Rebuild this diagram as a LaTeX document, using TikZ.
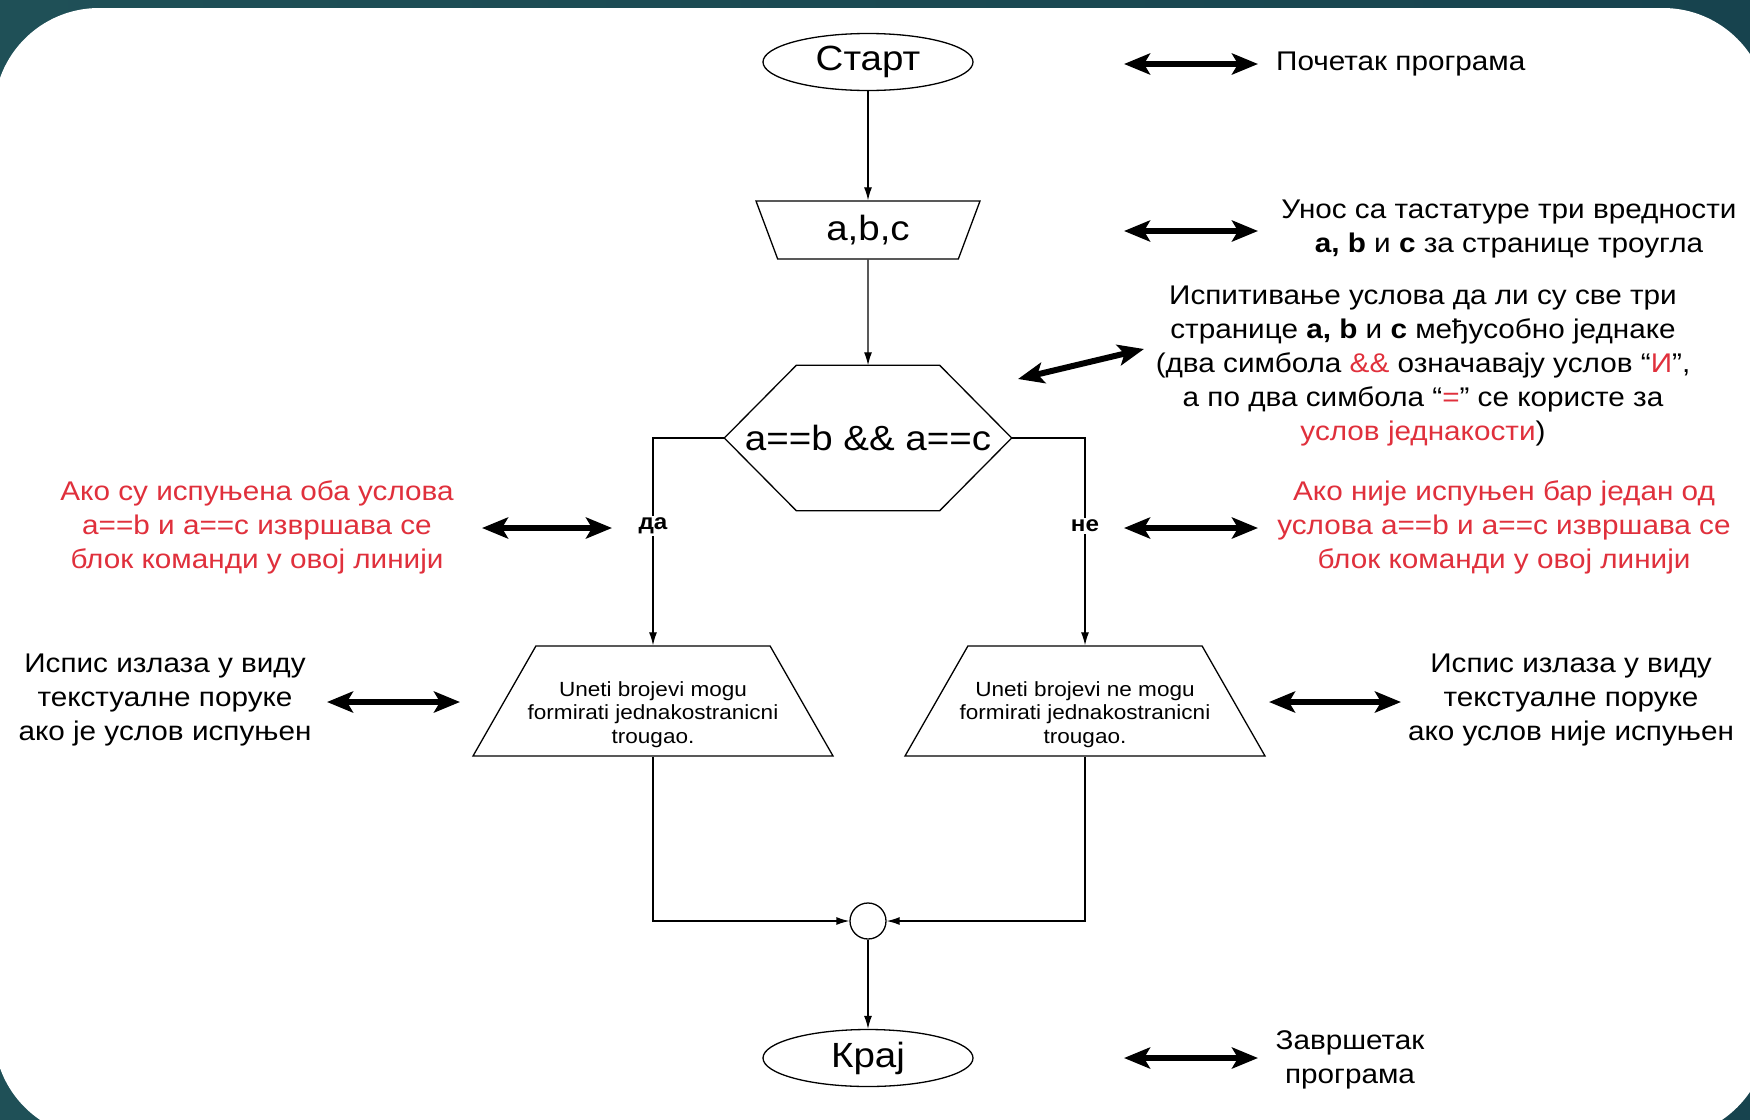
\documentclass[tikz,border=0pt]{standalone}
\usepackage{fontspec}
\setmainfont{Liberation Sans}[FakeStretch=1.1]
\usetikzlibrary{shapes.geometric,arrows.meta}

\definecolor{tealleft}{HTML}{1F5057}
\definecolor{tealmid}{HTML}{28605F}
\definecolor{tealright}{HTML}{17434E}
\definecolor{notered}{HTML}{E0303C}

\tikzset{
  flowline/.style={line width=1.3pt,-{Latex[length=13pt,width=8pt]}},
  term/.style={ellipse,draw,line width=1.3pt,minimum width=210pt,minimum height=57pt,
    inner sep=0pt,font=\fontsize{35}{40}\selectfont},
  inbox/.style={trapezium,draw,line width=1.3pt,shape border rotate=180,
    trapezium left angle=54,trapezium right angle=54,trapezium stretches body,
    minimum width=224pt,minimum height=58pt,inner sep=0pt,font=\fontsize{35}{40}\selectfont},
  outbox/.style={trapezium,draw,line width=1.3pt,trapezium left angle=56,trapezium right angle=56,
    trapezium stretches body,minimum width=360pt,minimum height=110pt,inner xsep=-25pt,
    inner ysep=0pt,align=center,font=\fontsize{20.5}{23.5}\selectfont},
  testbox/.style={rectangle,minimum width=287pt,minimum height=145pt,inner sep=0pt,
    font=\fontsize{35}{40}\selectfont},
  hexline/.style={line width=1.3pt,line join=miter},
  joint/.style={circle,draw,line width=1.3pt,minimum size=36pt,inner sep=0pt},
  branch/.style={fill=white,inner sep=2pt,font=\fontsize{22}{26}\selectfont\bfseries},
  note/.style={align=center,inner sep=0pt,font=\fontsize{27}{34}\selectfont},
  rednote/.style={note,text=notered},
  twohead/.style={line width=6pt,{Stealth[length=26pt,width=21pt,inset=6pt]}-{Stealth[length=26pt,width=21pt,inset=6pt]}}
}

\begin{document}
\begin{tikzpicture}[x=1pt,y=-1pt]
% background and panel
\shade[left color=tealleft,middle color=tealmid,right color=tealright] (0,0) rectangle (1750,1119);
\begin{scope}
\clip (0,0) rectangle (1750,1119);
\fill[white,rounded corners=105pt] (-6,8) rectangle (1768,1138);
\end{scope}
\useasboundingbox (0,0) rectangle (1750,1119);

% flowchart
\node[term] (start) at (868,62) {Старт};
\node[inbox] (in) at (868,230) {a,b,c};
\node[testbox] (dec) at (868,438) {a==b \&\& a==c};
\draw[hexline] (dec.west) -- ([xshift=72pt]dec.north west) -- ([xshift=-72pt]dec.north east)
  -- (dec.east) -- ([xshift=-72pt]dec.south east) -- ([xshift=72pt]dec.south west) -- cycle;
\node[outbox] (yesout) at (653,701) {\rule{0pt}{42pt}Uneti brojevi mogu\\formirati jednakostranicni\\trougao.};
\node[outbox] (noout) at (1085,701) {\rule{0pt}{42pt}Uneti brojevi ne mogu\\formirati jednakostranicni\\trougao.};
\node[joint] (merge) at (868,921) {};
\node[term] (stop) at (868,1058) {Крај};

\draw[flowline] (start) -- (in);
\draw[flowline] (in) -- (dec);
\draw[flowline] (dec.west) -| (yesout);
\draw[flowline] (dec.east) -| (noout);
\draw[flowline] (yesout) |- (merge);
\draw[flowline] (noout) |- (merge);
\draw[flowline] (merge) -- (stop);

\node[branch] (yes) at (653,526) {да};
\node[branch] (no) at (1085,526) {не};

% explanations
\node[note,anchor=west] (n1) at (1276,64) {Почетак програма};
\node[note] (n2) at (1509,229) {Унос са тастатуре три вредности\\
  \textbf{a, b} и \textbf{c} за странице троугла};
\node[note] (n3) at (1423,366) {Испитивање услова да ли су све три\\
  странице \textbf{a, b} и \textbf{c} међусобно једнаке\\
  (два симбола \textcolor{notered}{\&\&} означавају услов “\textcolor{notered}{И}”,\\
  а по два симбола “\textcolor{notered}{=}” се користе за\\
  \textcolor{notered}{услов једнакости})};
\node[rednote] (n4) at (257,527) {Ако су испуњена оба услова\\a==b и a==c извршава се\\блок команди у овој линији};
\node[rednote] (n5) at (1504,527) {Ако није испуњен бар један од\\услова a==b и a==c извршава се\\блок команди у овој линији};
\node[note] (n6) at (165,700) {Испис излаза у виду\\текстуалне поруке\\ако је услов испуњен};
\node[note] (n7) at (1571,700) {Испис излаза у виду\\текстуалне поруке\\ако услов није испуњен};
\node[note] (n8) at (1350,1060) {Завршетак\\програма};

% double arrows
\coordinate (a1l) at (1124,64);   \coordinate (a1r) at (1258,64);
\coordinate (a2l) at (1124,231);  \coordinate (a2r) at (1258,231);
\coordinate (a3l) at (1018,379);  \coordinate (a3r) at (1144,349);
\coordinate (a4l) at (482,528);   \coordinate (a4r) at (612,528);
\coordinate (a5l) at (1124,528);  \coordinate (a5r) at (1258,528);
\coordinate (a6l) at (327,702);   \coordinate (a6r) at (460,702);
\coordinate (a7l) at (1269,702);  \coordinate (a7r) at (1401,702);
\coordinate (a8l) at (1124,1058); \coordinate (a8r) at (1258,1058);
\draw[twohead] (a1l) -- (a1r);
\draw[twohead] (a2l) -- (a2r);
\draw[twohead] (a3l) -- (a3r);
\draw[twohead] (a4l) -- (a4r);
\draw[twohead] (a5l) -- (a5r);
\draw[twohead] (a6l) -- (a6r);
\draw[twohead] (a7l) -- (a7r);
\draw[twohead] (a8l) -- (a8r);
\end{tikzpicture}
\end{document}
